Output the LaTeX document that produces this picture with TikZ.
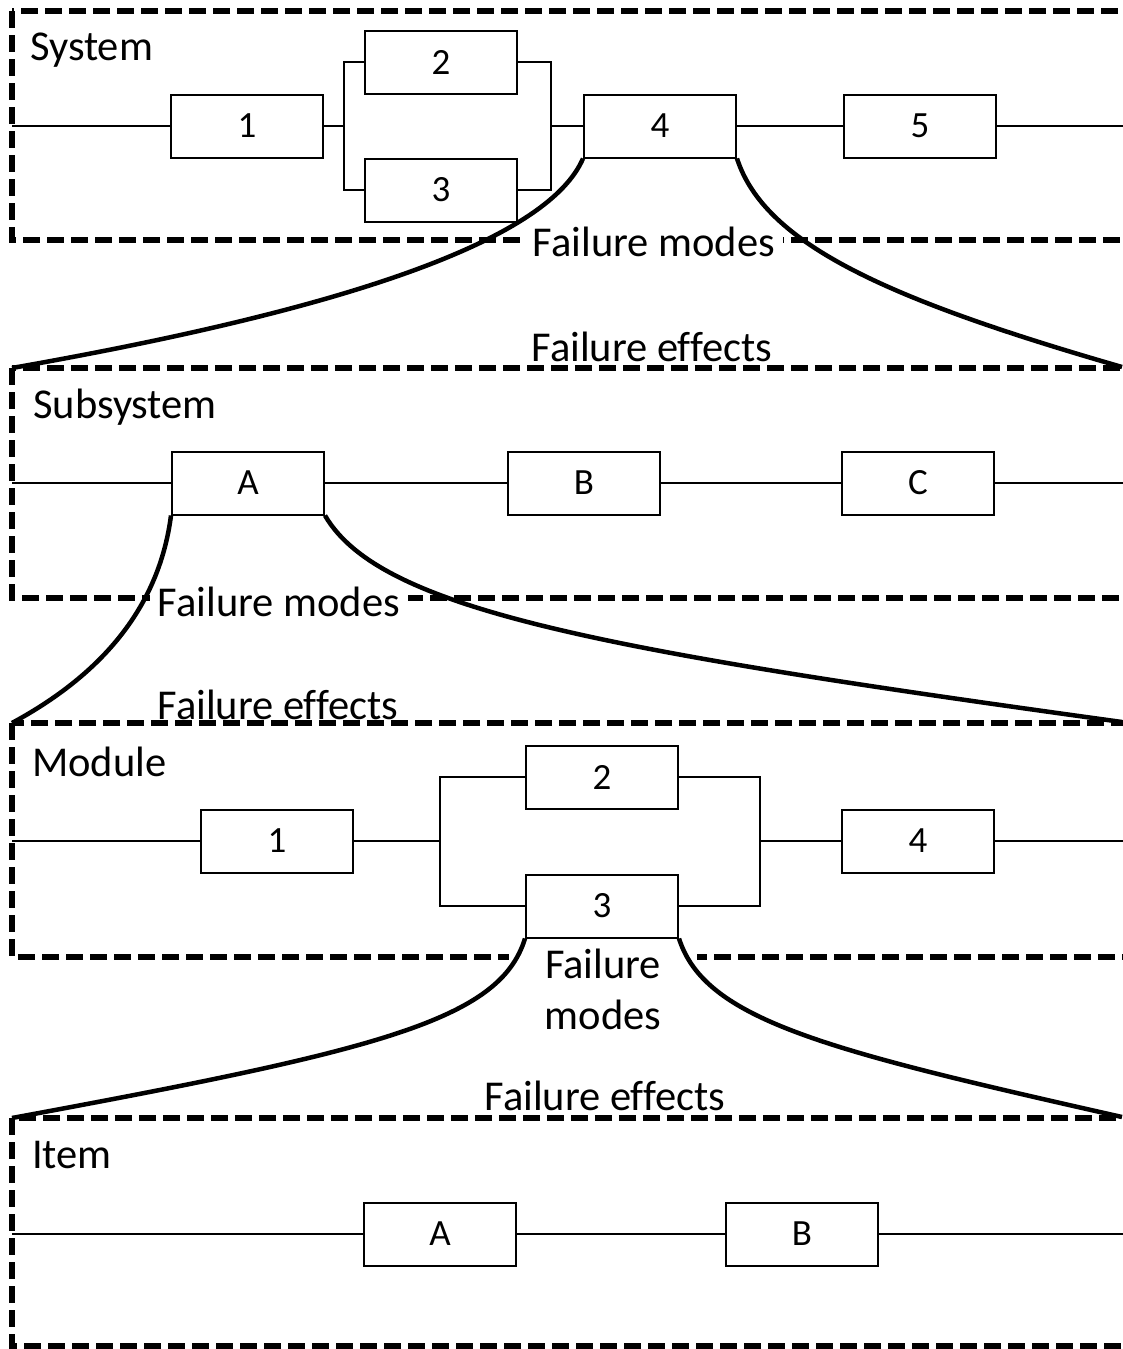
\documentclass[tikz,border=0pt]{standalone}
\usepackage{fontspec}
\setmainfont{Carlito}[Ligatures=NoCommon]
\begin{document}
\begin{tikzpicture}[x=1pt,y=-1pt,
  panel/.style={draw, line width=6pt, dash pattern=on 17pt off 7pt, line join=miter},
  blk/.style={draw, line width=2pt, minimum width=152pt, minimum height=63pt, inner sep=0pt,
              font=\fontsize{37}{44}\selectfont},
  wire/.style={line width=2pt},
  zoomcurve/.style={line width=4.5pt},
  title/.style={anchor=base west, inner sep=0pt, font=\fontsize{42.5}{51}\selectfont},
  fmode/.style={fill=white, inner xsep=8pt, inner ysep=3pt, font=\fontsize{42.5}{51}\selectfont},
  feffect/.style={anchor=base, inner sep=0pt, font=\fontsize{42.5}{51}\selectfont},
]
\useasboundingbox (0,0) rectangle (1123,1349);
\clip (0,0) rectangle (1123,1349);

% ---------------- dashed level frames ----------------
\draw[panel] (12,11) rectangle (1140,240);
\draw[panel] (12,368) rectangle (1140,598);
\draw[panel] (12,723) rectangle (1140,957);
\draw[panel] (12,1118) rectangle (1140,1346);

\coordinate (subTL) at (12,368);
\coordinate (subTR) at (1122,367);
\coordinate (modTL) at (12,723);
\coordinate (modTR) at (1122,722);
\coordinate (itmTL) at (12,1118);
\coordinate (itmTR) at (1122,1117);

% ---------------- System ----------------
\node[title] (tsys) at (30,60) {System};
\node[blk] (s1) at (247,126) {1};
\node[blk] (s2) at (441,62) {2};
\node[blk] (s3) at (441,190) {3};
\node[blk] (s4) at (660,126) {4};
\node[blk] (s5) at (920,126) {5};
\coordinate (sin) at (12,126);
\coordinate (sout) at (1130,126);
\coordinate (sj1) at (344,126);
\coordinate (sj2) at (551,126);
\draw[wire] (sin) -- (s1.west);
\draw[wire] (s1.east) -- (sj1);
\draw[wire] (s2.west) -| (sj1) |- (s3.west);
\draw[wire] (s2.east) -| (sj2) |- (s3.east);
\draw[wire] (sj2) -- (s4.west);
\draw[wire] (s4.east) -- (s5.west);
\draw[wire] (s5.east) -- (sout);

% ---------------- Subsystem ----------------
\node[title] (tsub) at (33,418) {Subsystem};
\node[blk] (uA) at (248,483) {A};
\node[blk] (uB) at (584,483) {B};
\node[blk] (uC) at (918,483) {C};
\coordinate (uin) at (12,483);
\coordinate (uout) at (1130,483);
\draw[wire] (uin) -- (uA.west);
\draw[wire] (uA.east) -- (uB.west);
\draw[wire] (uB.east) -- (uC.west);
\draw[wire] (uC.east) -- (uout);

% ---------------- Module ----------------
\node[title] (tmod) at (32,776) {Module};
\node[blk] (m1) at (277,841) {1};
\node[blk] (m2) at (602,777) {2};
\node[blk] (m3) at (602,906) {3};
\node[blk] (m4) at (918,841) {4};
\coordinate (min) at (12,841);
\coordinate (mout) at (1130,841);
\coordinate (mj1) at (440,841);
\coordinate (mj2) at (760,841);
\draw[wire] (min) -- (m1.west);
\draw[wire] (m1.east) -- (mj1);
\draw[wire] (m2.west) -| (mj1) |- (m3.west);
\draw[wire] (m2.east) -| (mj2) |- (m3.east);
\draw[wire] (mj2) -- (m4.west);
\draw[wire] (m4.east) -- (mout);

% ---------------- Item ----------------
\node[title] (titm) at (32,1168) {Item};
\node[blk] (iA) at (440,1234) {A};
\node[blk] (iB) at (802,1234) {B};
\coordinate (iin) at (12,1234);
\coordinate (iout) at (1130,1234);
\draw[wire] (iin) -- (iA.west);
\draw[wire] (iA.east) -- (iB.west);
\draw[wire] (iB.east) -- (iout);

% ---------------- failure mode / effect labels ----------------
\node[fmode, anchor=base] (fm1) at (654,256) {Failure modes};
\node[feffect] (fe1) at (652,361) {Failure effects};
\node[fmode, anchor=base] (fm2) at (279,616) {Failure modes};
\node[feffect] (fe2) at (278,719) {Failure effects};
\node[fmode, align=center, text width=172pt] (fm3) at (603,989) {Failure\\modes};
\node[feffect] (fe3) at (605,1110) {Failure effects};

% ---------------- zoom-in curves ----------------
\draw[zoomcurve] (s4.south west) .. controls (550,235) and (370,305) .. (subTL);
\draw[zoomcurve] (s4.south east) .. controls (765,245) and (890,300) .. (subTR);
\draw[zoomcurve] (uA.south west) .. controls (160,600) and (110,670) .. (modTL);
\draw[zoomcurve] (uA.south east) .. controls (380,610) and (600,650) .. (modTR);
\draw[zoomcurve] (m3.south west) .. controls (500,1020) and (380,1050) .. (itmTL);
\draw[zoomcurve] (m3.south east) .. controls (705,1020) and (825,1050) .. (itmTR);
\end{tikzpicture}
\end{document}
